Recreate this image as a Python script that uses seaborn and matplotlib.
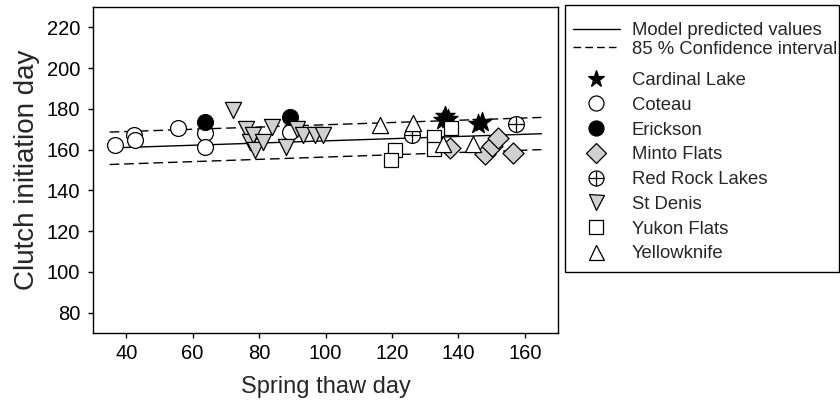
import matplotlib
matplotlib.use('Agg')
import matplotlib.pyplot as plt
import seaborn as sns
from matplotlib.lines import Line2D
from matplotlib.patches import Rectangle

sns.set_style('ticks')
plt.rcParams['font.family'] = ['Liberation Sans', 'DejaVu Sans']

# ---------------- data ----------------
line_x = [35, 165]
pred_y = [160.8, 167.8]
upper_y = [168.6, 175.8]
lower_y = [152.7, 160.0]

cardinal_x = [135.3, 136.0, 137.0, 146.0, 147.2]
cardinal_y = [174.5, 176.5, 175.0, 172.5, 173.5]
coteau_x = [36.7, 42.2, 42.5, 55.5, 63.7, 63.7, 89.2]
coteau_y = [162.5, 167.0, 164.5, 170.6, 168.1, 161.2, 168.6]
erickson_x = [63.7, 89.2]
erickson_y = [173.5, 176.0]
minto_x = [137.5, 148.0, 150.0, 152.0, 156.4]
minto_y = [160.6, 158.0, 161.6, 165.6, 158.4]
redrock_x = [126.0, 157.5]
redrock_y = [167.0, 172.4]
stdenis_x = [72.2, 76.2, 77.2, 78.2, 78.7, 81.2, 83.8, 88.2, 91.3, 93.2, 96.8, 99.3]
stdenis_y = [179.5, 170.2, 163.7, 167.0, 159.8, 163.7, 171.1, 161.5, 170.2, 167.0, 167.0, 167.0]
yukon_x = [120.8, 119.8, 132.8, 132.8, 137.9]
yukon_y = [160.0, 154.8, 166.2, 160.4, 170.8]
yellowknife_x = [116.3, 126.3, 135.3, 144.3]
yellowknife_y = [171.9, 173.0, 162.9, 162.9]

x_ticks = [40, 60, 80, 100, 120, 140, 160]
y_ticks = [80, 100, 120, 140, 160, 180, 200, 220]

GRAY = '#d0d0d0'

fig, ax = plt.subplots(figsize=(8.4, 4.01), dpi=100)
fig.subplots_adjust(left=93/840, right=558/840, bottom=1-333/401, top=1-7/401)

dash = (0, (7, 3.5))
sns.lineplot(x=line_x, y=pred_y, color='black', lw=1, ax=ax)
sns.lineplot(x=line_x, y=upper_y, color='black', lw=1, linestyle=dash, ax=ax)
sns.lineplot(x=line_x, y=lower_y, color='black', lw=1, linestyle=dash, ax=ax)

ew = 0.9
sns.scatterplot(x=cardinal_x, y=cardinal_y, marker='*', s=210, color='black',
                edgecolor='black', linewidth=ew, ax=ax, zorder=3)
sns.scatterplot(x=coteau_x, y=coteau_y, marker='o', s=130, color='white',
                edgecolor='black', linewidth=ew, ax=ax, zorder=3)
sns.scatterplot(x=erickson_x, y=erickson_y, marker='o', s=130, color='black',
                edgecolor='black', linewidth=ew, ax=ax, zorder=3)
sns.scatterplot(x=minto_x, y=minto_y, marker='D', s=115, color=GRAY,
                edgecolor='black', linewidth=ew, ax=ax, zorder=3)
sns.scatterplot(x=redrock_x, y=redrock_y, marker='o', s=130, color='white',
                edgecolor='black', linewidth=ew, ax=ax, zorder=3)
sns.scatterplot(x=redrock_x, y=redrock_y, marker='+', s=130, color='black',
                linewidth=ew, ax=ax, zorder=3)
sns.scatterplot(x=stdenis_x, y=stdenis_y, marker='v', s=135, color=GRAY,
                edgecolor='black', linewidth=ew, ax=ax, zorder=3)
sns.scatterplot(x=yukon_x, y=yukon_y, marker='s', s=105, color='white',
                edgecolor='black', linewidth=ew, ax=ax, zorder=3)
sns.scatterplot(x=yellowknife_x, y=yellowknife_y, marker='^', s=135, color='white',
                edgecolor='black', linewidth=ew, ax=ax, zorder=3)

ax.set_xlim(30, 170)
ax.set_ylim(70, 230)
ax.set_xticks(x_ticks)
ax.set_yticks(y_ticks)
ax.tick_params(direction='out', length=3.6, width=1, labelsize=14.5, colors='black')
ax.tick_params(axis='x', pad=4)
ax.tick_params(axis='y', pad=5.5)
for sp in ax.spines.values():
    sp.set_visible(True)
    sp.set_color('black')
    sp.set_linewidth(1)
ax.set_xlabel('Spring thaw day', fontsize=17, labelpad=10)
ax.set_ylabel('Clutch initiation day', fontsize=20, labelpad=5)

# ---------------- legend ----------------
fs = 13.3
h_solid = Line2D([], [], color='black', lw=1)
h_dash = Line2D([], [], color='black', lw=1, linestyle=(0, (5.5, 3)))
leg1 = fig.legend(handles=[h_solid, h_dash],
                  labels=['Model predicted values', '85 % Confidence interval'],
                  loc='upper left', bbox_to_anchor=(573/840, 1-22/401),
                  frameon=False, fontsize=fs, borderpad=0, borderaxespad=0,
                  handlelength=2.54, handletextpad=0.65, labelspacing=0.1)

def mk(marker, ms, fc):
    return Line2D([], [], ls='none', marker=marker, markersize=ms,
                  markerfacecolor=fc, markeredgecolor='black', markeredgewidth=ew)

h_rr = (mk('o', 10.8, 'white'),
        Line2D([], [], ls='none', marker='+', markersize=10.8,
               markeredgecolor='black', markeredgewidth=ew))
site_handles = [mk('*', 12.5, 'black'), mk('o', 10.8, 'white'), mk('o', 10.8, 'black'),
                mk('D', 10, GRAY), h_rr, mk('v', 10.8, GRAY), mk('s', 10.5, 'white'),
                mk('^', 10.8, 'white')]
site_labels = ['Cardinal Lake', 'Coteau', 'Erickson', 'Minto Flats', 'Red Rock Lakes',
               'St Denis', 'Yukon Flats', 'Yellowknife']
leg2 = fig.legend(handles=site_handles, labels=site_labels,
                  loc='upper left', bbox_to_anchor=(573/840, 1-72/401),
                  frameon=False, fontsize=fs, borderpad=0, borderaxespad=0,
                  handlelength=2.54, handletextpad=0.65, labelspacing=0.42)

frame = Rectangle((565/840, 1-272/401), (839-565)/840, (272-5)/401,
                  transform=fig.transFigure, fill=False, edgecolor='black',
                  linewidth=1, clip_on=False)
fig.add_artist(frame)

fig.savefig('out.png', dpi=100)
